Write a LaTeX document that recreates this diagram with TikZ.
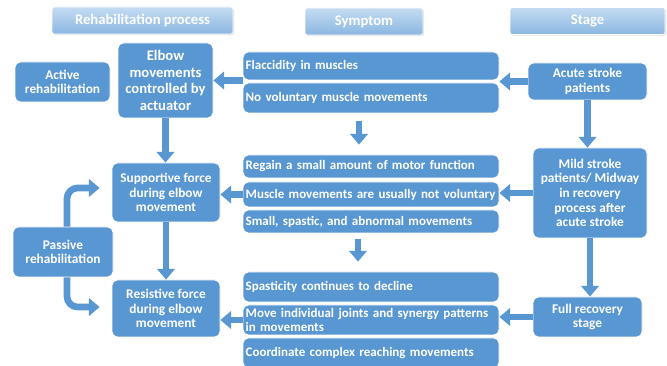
\documentclass[tikz,border=0pt]{standalone}
\usepackage{fontspec}
\setmainfont{Carlito}
\usetikzlibrary{arrows.meta,shadows}
\hyphenpenalty=10000

\definecolor{boxblue}{RGB}{89,151,210}
\definecolor{headtop}{RGB}{196,220,242}
\definecolor{headbot}{RGB}{138,182,225}

\begin{document}
\begin{tikzpicture}[x=0.75pt, y=-0.75pt,
    box/.style={draw=white, line width=0.6pt, rounded corners=4pt, fill=boxblue, text=white,
        font=\bfseries\fontsize{10}{11}\selectfont, align=center, inner sep=2pt},
    symbox/.style={box, inner xsep=2pt, text width=188pt, align=left, minimum width=192pt,
        font=\bfseries\fontsize{9.75}{10.5}\selectfont},
    header/.style={draw=white, rounded corners=2pt, top color=headtop, bottom color=headbot, text=white,
        font=\bfseries\fontsize{11}{13}\selectfont, minimum height=20.25pt,
        drop shadow={opacity=0.25, shadow xshift=0.8pt, shadow yshift=-0.8pt}},
    barrow/.style={draw=boxblue, line width=5pt, -{Triangle[width=13pt, length=8pt]}}]
    \fill[white] (0,0) rectangle (667,366);
    \useasboundingbox (0,0) rectangle (667,366);

    % Headers
    \node[header, minimum width=135.75pt] (hRehab) at (142.5, 20.5) {Rehabilitation process};
    \node[header, minimum width=88.5pt] (hSym) at (364, 21.5) {Symptom};
    \node[header, minimum width=116.25pt] (hStage) at (587.5, 21) {Stage};

    % Rehabilitation process
    \node[box, minimum width=71.25pt, minimum height=30pt] (active) at (62.5, 82) {Active\\rehabilitation};
    \node[box, minimum width=71.25pt, minimum height=56.25pt, font=\bfseries\fontsize{11}{12.5}\selectfont] (elbow) at (165.5, 80.5) {Elbow\\movements\\controlled by\\actuator};
    \node[box, minimum width=81pt, minimum height=44.25pt] (supp) at (166, 192.5) {Supportive force\\during elbow\\movement};
    \node[box, minimum width=75pt, minimum height=37.5pt] (passive) at (63, 252) {Passive\\rehabilitation};
    \node[box, minimum width=81pt, minimum height=42.75pt] (resist) at (166, 308.5) {Resistive force\\during elbow\\movement};

    % Symptoms
    \node[symbox, minimum height=21pt] (flacc) at (371, 66) {Flaccidity in muscles};
    \node[symbox, minimum height=22.5pt] (novol) at (371, 98) {No voluntary muscle movements};
    \node[symbox, minimum height=17.25pt] (regain) at (371, 166.5) {Regain a small amount of motor function};
    \node[symbox, minimum height=18.75pt] (musc) at (371, 194.5) {Muscle movements are usually not voluntary};
    \node[symbox, minimum height=17.25pt] (small) at (371, 221.5) {Small, spastic, and abnormal movements};
    \node[symbox, minimum height=22.5pt] (spast) at (371, 287) {Spasticity continues to decline};
    \node[symbox, minimum height=22.5pt] (move) at (371, 320) {Move individual joints and synergy patterns\\in movements};
    \node[symbox, minimum height=22.5pt] (coord) at (371, 353) {Coordinate complex reaching movements};

    % Stages
    \node[box, minimum width=89.25pt, minimum height=27.75pt] (acute) at (587.5, 81.5) {Acute stroke\\patients};
    \node[box, minimum width=85.5pt, minimum height=67.5pt] (mild) at (590, 193) {Mild stroke\\patients/ Midway\\in recovery\\process after\\acute stroke};
    \node[box, minimum width=81.75pt, minimum height=30pt] (full) at (587.5, 317) {Full recovery\\stage};

    % Arrows
    \draw[barrow] (flacc.west |- elbow.east) -- (elbow.east);
    \draw[barrow] (acute.west) -- (acute.west -| flacc.east);
    \draw[barrow] (musc.west) -- (musc.west -| supp.east);
    \draw[barrow] (mild.west) -- (mild.west -| musc.east);
    \draw[barrow] (move.west) -- (move.west -| resist.east);
    \draw[barrow] (full.west) -- (full.west -| move.east);
    \draw[barrow] (elbow.south) -- (elbow.south |- supp.north);
    \draw[barrow] (supp.south) -- (supp.south |- resist.north);
    \draw[barrow] (acute.south) -- (acute.south |- mild.north);
    \draw[barrow] (mild.south) -- (mild.south |- full.north);
    \draw[barrow] ([xshift=-9pt, yshift=-6pt]novol.south) -- ([xshift=-9pt, yshift=7.5pt]regain.north);
    \draw[barrow] ([xshift=-9.75pt, yshift=-4.5pt]small.south) -- ([xshift=-9.75pt, yshift=7.5pt]spast.north);
    \draw[barrow, rounded corners=8pt] ([xshift=3pt]passive.north) |- ([xshift=-9pt, yshift=3.4pt]supp.west);
    \draw[barrow, rounded corners=8pt] ([xshift=3pt]passive.south) |- ([xshift=-9pt, yshift=1.1pt]resist.west);
\end{tikzpicture}
\end{document}
